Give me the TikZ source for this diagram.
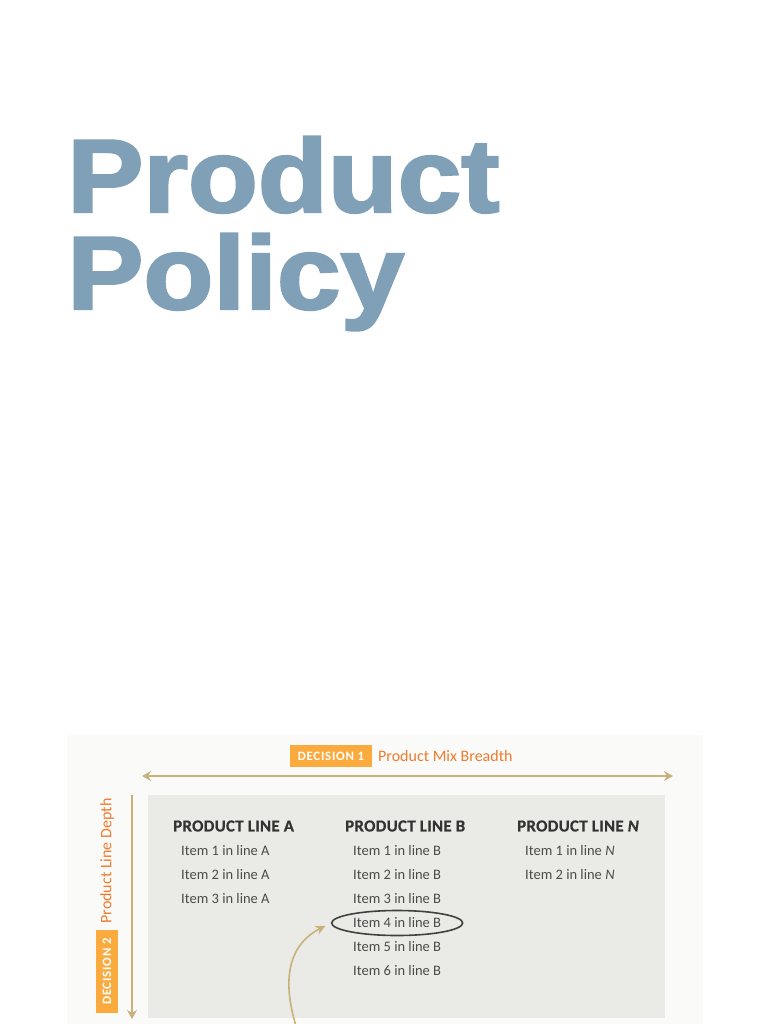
\documentclass[tikz,border=0pt]{standalone}
\usepackage{fontspec}
\usepackage{tikz}
\usetikzlibrary{arrows.meta,shapes.geometric}
\setmainfont{Carlito}
\newfontfamily\titlefont[FakeBold=2.2]{Liberation Sans Bold}
\newfontfamily\capsfont[LetterSpace=6]{Carlito Bold}
\newfontfamily\headfont[LetterSpace=2,FakeBold=0.6]{Carlito Bold}

\definecolor{titleblue}{HTML}{7FA0B7}
\definecolor{tan}{HTML}{C7B27B}
\definecolor{boxorange}{HTML}{FBAA3E}
\definecolor{txtorange}{HTML}{EE7B2E}
\definecolor{panel}{HTML}{EAEAE6}
\definecolor{paper}{HTML}{FAFAF8}
\definecolor{itemgrey}{HTML}{4B4B4B}

\tikzset{
	tag/.style={fill=boxorange, text=white, inner sep=0pt, minimum height=22pt,
		font=\capsfont\fontsize{12.8}{13}\selectfont},
	axis/.style={draw=tan, line width=1.6pt, {Stealth[length=9pt,width=10pt]}-{Stealth[length=9pt,width=10pt]}},
	lbl/.style={text=txtorange, inner sep=0pt, font=\fontsize{16}{17}\selectfont},
	head/.style={anchor=west, inner sep=0pt, text=black!80, font=\headfont\fontsize{16.8}{17}\selectfont},
	item/.style={anchor=west, inner sep=0pt, text=itemgrey, font=\fontsize{14.5}{15}\selectfont}
}

\begin{document}
\begin{tikzpicture}[x=1pt, y=-1pt]
	\def \w{768};
	\def \h{1024};
	\def \dy{24};
	\fill[white] (0, 0) rectangle (\w, \h);
	\useasboundingbox (0, 0) rectangle (\w, \h);

	% title
	\node[anchor=base west, inner sep=0pt, text=titleblue] (title) at (67, 212)
		{\scalebox{1.1}[1]{\titlefont\fontsize{104}{97}\selectfont Product}};
	\node[anchor=base west, inner sep=0pt, text=titleblue] (title2) at (67, 309)
		{\scalebox{1.1}[1]{\titlefont\fontsize{104}{97}\selectfont Policy}};

	% figure
	\fill[paper] (67, 735) rectangle (703, \h);
	\fill[panel] (148, 795) rectangle (665, 1018);

	\node[tag, minimum width=82pt] (dec1) at (331, 756) {DECISION 1};
	\node[lbl, anchor=west] (breadth) at (378, 756) {Product Mix Breadth};
	\coordinate (bl) at (142, 776);
	\coordinate (br) at (673, 776);
	\draw[axis] (bl) -- (br);

	\node[tag, rotate=90, minimum width=83pt] (dec2) at (107, 971.5) {DECISION 2};
	\node[lbl, rotate=90] (depth) at (107, 861) {Product Line Depth};
	\coordinate (dt) at (132, 795);
	\coordinate (db) at (132, 1019);
	\draw[draw=tan, line width=1.6pt, -{Stealth[length=9pt,width=10pt]}] (dt) -- (db);

	% product lines
	\node[head] (ha) at (173, 826) {PRODUCT LINE A};
	\node[head] (hb) at (345, 826) {PRODUCT LINE B};
	\node[head] (hn) at (517, 826) {PRODUCT LINE \textit{N}};
	\foreach \i in {1,2,3}
		\node[item] (a\i) at (181, 827+\dy*\i) {Item \i\ in line A};
	\foreach \i in {1,...,6}
		\node[item] (b\i) at (353, 827+\dy*\i) {Item \i\ in line B};
	\foreach \i in {1,2}
		\node[item] (n\i) at (525, 827+\dy*\i) {Item \i\ in line \textit{N}};

	\node[ellipse, draw=black!75, line width=1.6pt, minimum width=131pt, minimum height=25pt] (ring) at (b4) {};
	\coordinate (tail) at (296, 1026);
	\draw[draw=tan, line width=1.6pt, -{Stealth[length=10pt,width=9pt]}, shorten >=6pt]
		(tail) .. controls (282, 980) and (288, 945) .. (ring.west);
\end{tikzpicture}
\end{document}
